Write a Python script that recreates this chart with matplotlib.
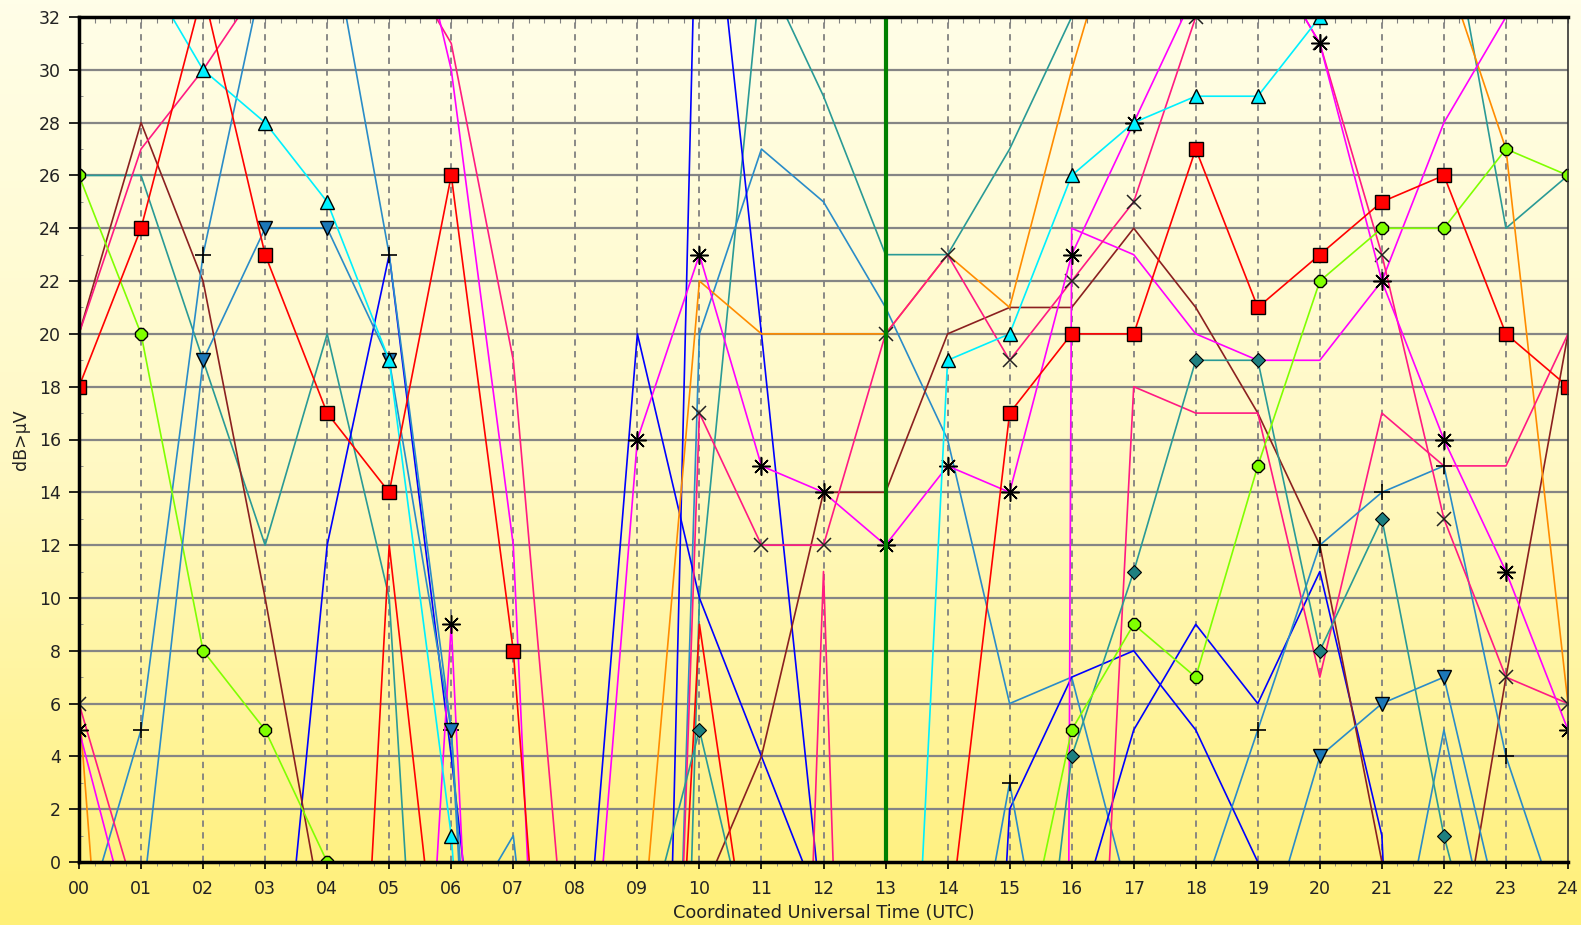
import numpy as np
import matplotlib
matplotlib.use("Agg")
import matplotlib.pyplot as plt
from matplotlib.colors import LinearSegmentedColormap

hours = list(range(25))
hour_labels = [f"{h:02d}" for h in hours]
now_hour = 13

# ---- series (dBuV at each hour, values outside 0..32 run off the chart) ----
red_sq     = [18, 24, 33, 23, 17, 14, 26, 8, -23, -40, -40, -40, -40, -40, -3, 17, 20, 20, 27, 21, 23, 25, 26, 20, 18]
cyan_up    = [38, 34, 30, 28, 25, 19, 1, -30, -30, -30, -30, -30, -30, -28, 19, 20, 26, 28, 29, 29, 32, 40, 40, 40, 40]
steel_dn   = [-20, -2, 19, 24, 24, 19, 5, -30, -30, -30, -30, -30, -30, -30, -30, -30, -30, -30, -30, -4, 4, 6, 7, -3, -20]
green_ci   = [26, 20, 8, 5, 0, -10, -20, -20, -20, -20, -20, -20, -20, -20, -20, -6, 5, 9, 7, 15, 22, 24, 24, 27, 26]
teal_di    = [-20, -20, -20, -20, -20, -20, -20, -20, -20, -4, 5, -5, -20, -20, -20, -16, 4, 11, 19, 19, 8, 13, 1, -8, -20]
steel_plus = [-3, 5, 23, 34, 36, 23, 5, -36, -36, -36, -36, -36, -36, -36, -10, 3, -10, -10, -2, 5, 12, 14, 15, 4, -3]
mag_star   = [5, -4, -30, -30, -30, -30, 9, -40, -13, 16, 23, 15, 14, 12, 15, 14, 23, 28, 33, 35, 31, 22, 16, 11, 5]
pink_x     = [6, -2, -50, -50, -50, -50, -50, -50, -50, -50, 17, 12, 12, 20, 23, 19, 22, 25, 32, 35, 31, 23, 13, 7, 6]

red_b      = [-40, -40, -40, -40, -31, 12, -9, -40, -40, -35, 9, -7, -40, -40, -40, -40, -40, -40, -40, -40, -40, -40, -40, -40, -40]
pink_a     = [20, 27, 30, 33.5, 40, 35, 31, 19, -8, -40, -40, -40, -40, -40, -40, -40, -40, -40, -40, -40, -40, -40, -40, -40, -40]
pink_b     = [-40, -40, -40, -40, -40, -40, -40, -40, -40, -40, -40, -40, -40, -40, -40, -40, -28, 18, 17, 17, 7, 17, 15, 15, 20]
pink_c     = [-60, -60, -60, -60, -60, -60, -60, -60, -60, -60, -60, -55, 11, -60, -60, -60, -60, -60, -60, -60, -60, -60, -60, -60, -60]
mag_a      = [50, 50, 50, 50, 50, 40, 30, 12, -40, -40, -40, -40, -40, -40, -40, -40, -40, -40, -40, -40, -40, -40, -40, -40, -40]
mag_b      = [-500, -500, -500, -500, -500, -500, -500, -500, -500, -500, -500, -500, -500, -500, -500, -500, 24, 23, 20, 19, 19, 22, 28, 32, 37]
orange_a   = [6, -25, -30, -30, -30, -30, -30, -30, -30, -5, 22, 20, 20, 20, 23, 21, 30, 38, 40, 40, 40, 40, 34, 27, 6]
brown_a    = [20, 28, 22, 10, -3, -20, -20, -20, -20, -20, -1.5, 4, 14, 14, 20, 21, 21, 24, 21, 17, 12, 0, -7, 7, 20]
blue_a     = [-40, -40, -40, -12, 12, 23, 4, -17, -40, -40, -40, -40, -40, -40, -40, 2, 7, 8, 5, 0, -5, -40, -40, -40, -40]
blue_b     = [-40, -40, -40, -40, -40, -40, -40, -40, -9, 20, 10, 4, -2, -40, -40, -40, -3, 5, 9, 6, 11, 1, -50, -50, -50]
blue_c     = [-60, -60, -60, -60, -60, -60, -60, -60, -60, -55, 42, 20, -2.6, -40, -40, -40, -40, -40, -40, -40, -40, -40, -40, -40, -40]
teal_a     = [26, 26, 19, 12, 20, 10, -28, -70, -70, -70, 10, 34, 29, 23, 23, 27, 32, 37, 40, 40, 40, 45, 37, 24, 26]
steel_a    = [-20, -20, -20, -20, -20, -20, -3, 1, -20, -55, 20, 27, 25, 21, 16, 6, 7, -2, -20, -20, -20, -7, 5, -6, -20]

C_RED = "#FF0000"
C_PINK = "#FF1A82"
C_MAG = "#FF00FF"
C_ORANGE = "#FF8C00"
C_BROWN = "#8B2020"
C_BLUE = "#0000FF"
C_STEEL = "#2A8CC8"
C_TEAL = "#2A9A96"
C_CYAN = "#00F0FF"
C_GREEN = "#80FF00"

fig = plt.figure(figsize=(15.81, 9.25), dpi=100)

# background gradient
bg = fig.add_axes([0, 0, 1, 1], zorder=-10)
cmap = LinearSegmentedColormap.from_list("bg", ["#FFFEE8", "#FFF9C4", "#FFF078"])
grad = np.linspace(0, 1, 256).reshape(-1, 1)
bg.imshow(grad, aspect="auto", cmap=cmap, extent=[0, 1, 0, 1], origin="upper")
bg.set_axis_off()

ax = fig.add_axes([79/1581, 1-862/925, (1568-79)/1581, (862-17)/925])
ax.set_facecolor("none")
ax.set_xlim(0, 24)
ax.set_ylim(0, 32)

lw = 1.2
plain = [
    (teal_a, C_TEAL), (steel_a, C_STEEL), (blue_a, C_BLUE), (blue_b, C_BLUE), (blue_c, C_BLUE),
    (brown_a, C_BROWN), (orange_a, C_ORANGE), (red_b, C_RED), (pink_a, C_PINK), (pink_b, C_PINK),
    (pink_c, C_PINK), (mag_a, C_MAG), (mag_b, C_MAG),
]
for vals, col in plain:
    ax.plot(hours, vals, color=col, lw=lw, zorder=3)

ax.plot(hours, steel_plus, color=C_STEEL, lw=lw, marker="+", ms=12, mec="black", mew=1.2, zorder=4)
ax.plot(hours, pink_x, color=C_PINK, lw=lw, marker="x", ms=10, mec="#222222", mew=1.1, zorder=4)
ax.plot(hours, mag_star, color=C_MAG, lw=lw, marker=(8, 2, 0), ms=13, mec="black", mew=1.1, zorder=4)
ax.plot(hours, teal_di, color=C_TEAL, lw=lw, marker="D", ms=7.5, mfc="#1E8080", mec="black", mew=0.8, zorder=4)
ax.plot(hours, green_ci, color=C_GREEN, lw=lw, marker="8", ms=9, mfc=C_GREEN, mec="black", mew=1.0, ls="-", zorder=4)
ax.plot(hours, steel_dn, color=C_STEEL, lw=lw, marker="v", ms=10, mfc="#1C78B8", mec="black", mew=1.0, zorder=4)
ax.plot(hours, cyan_up, color=C_CYAN, lw=lw, marker="^", ms=10, mfc=C_CYAN, mec="black", mew=1.0, zorder=4)
ax.plot(hours, red_sq, color=C_RED, lw=lw, marker="s", ms=10, mfc=C_RED, mec="black", mew=1.0, zorder=5)

ax.axvline(now_hour, color="#008000", lw=3, zorder=6)

# grid
for y in range(2, 32, 2):
    ax.axhline(y, color="#858585", lw=1.6, zorder=1)
for h in range(1, 24):
    ax.axvline(h, color="#808080", lw=1.3, ls=(0, (3.5, 3)), zorder=1)

ax.set_xticks(hours)
ax.set_xticklabels(hour_labels)
ax.set_yticks(range(0, 33, 2))
ax.set_xticks(np.arange(0, 24.01, 0.25), minor=True)
ax.set_yticks(range(1, 32, 2), minor=True)
ax.tick_params(axis="both", which="major", labelsize=12.5, labelcolor="#222222", color="black", width=1.2)
ax.tick_params(axis="x", which="major", direction="out", length=5, pad=8)
ax.tick_params(axis="x", which="minor", direction="out", length=3, color="#808080")
ax.tick_params(axis="y", which="major", direction="out", length=7, pad=6)
ax.tick_params(axis="y", which="minor", direction="in", length=3, color="#808080")

top = ax.secondary_xaxis("top")
top.set_xticks(np.arange(0, 24.01, 0.25))
top.tick_params(direction="in", length=4, color="#808080", labeltop=False)
top.set_xticklabels([])
top.spines["top"].set_visible(False)

for s in ["left", "bottom", "top"]:
    ax.spines[s].set_linewidth(2.5)
    ax.spines[s].set_color("black")
ax.spines["right"].set_linewidth(1.2)
ax.spines["right"].set_color("#333333")
for s in ax.spines.values():
    s.set_zorder(7)

ax.set_xlabel("Coordinated Universal Time (UTC)", fontsize=12.8, color="#222222", labelpad=4)
ax.set_ylabel("dB>µV", fontsize=12.5, color="#222222", labelpad=6)

fig.savefig("out.png", dpi=100)
